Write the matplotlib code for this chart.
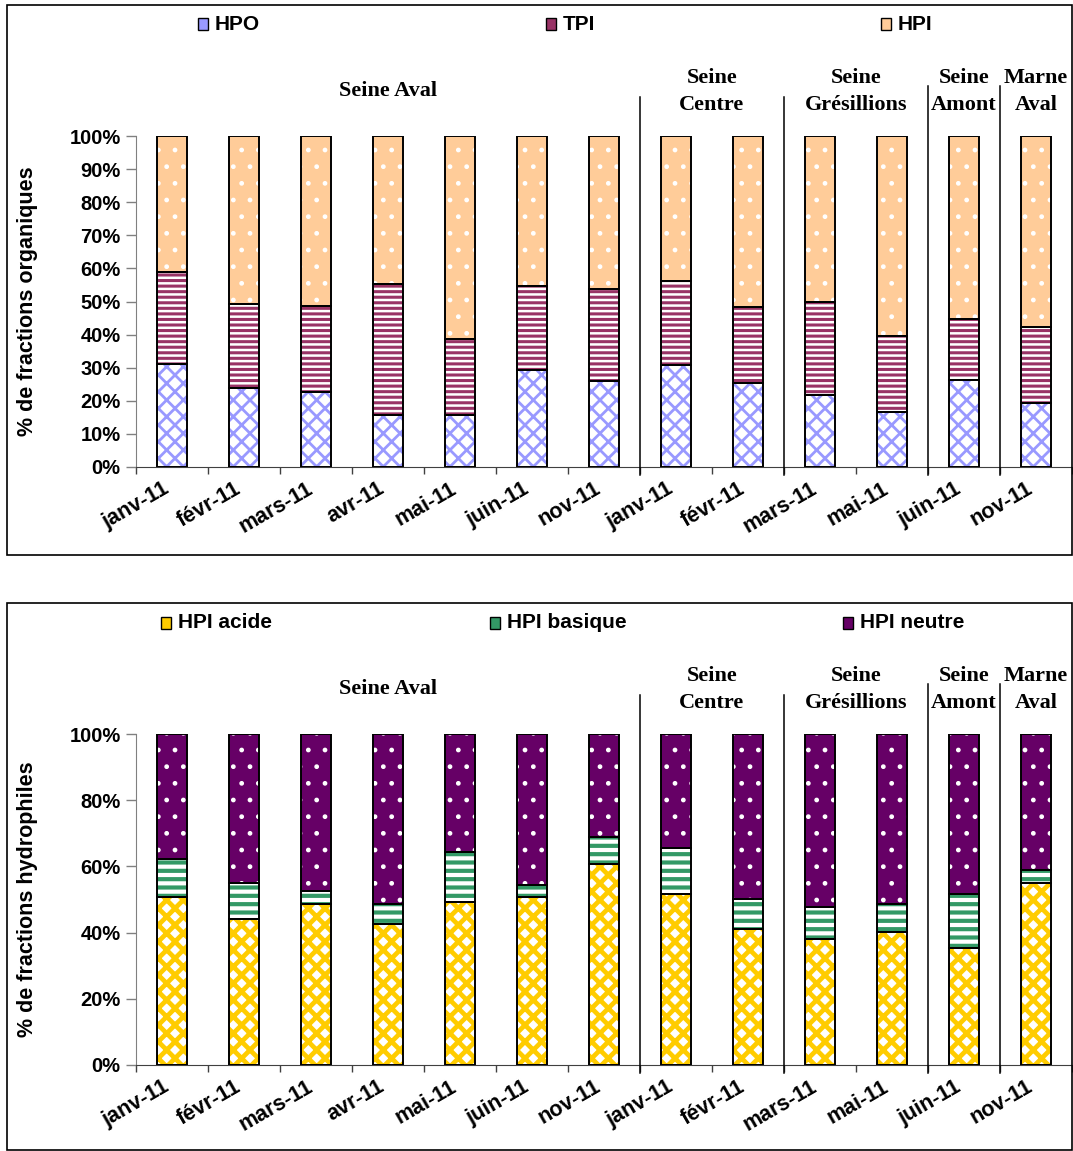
import matplotlib
matplotlib.use('Agg')
import matplotlib.pyplot as plt
from matplotlib.patches import Rectangle
from matplotlib.transforms import ScaledTranslation
import numpy as np

# ---------------- data ----------------
months = ['janv-11', 'févr-11', 'mars-11', 'avr-11', 'mai-11', 'juin-11', 'nov-11',
          'janv-11', 'févr-11', 'mars-11', 'mai-11', 'juin-11', 'nov-11']
groups = ['Seine Aval', 'Seine\nCentre', 'Seine\nGrésillions', 'Seine\nAmont', 'Marne\nAval']
group_sizes = [7, 2, 2, 1, 1]

hpo = [31.0, 24.0, 22.7, 15.8, 15.7, 29.4, 25.9, 30.9, 25.3, 21.8, 16.6, 26.4, 19.2]
tpi = [27.8, 25.3, 26.0, 39.6, 22.9, 25.4, 27.9, 25.4, 22.9, 28.0, 23.0, 18.2, 23.0]
hpi = [41.2, 50.7, 51.3, 44.6, 61.4, 45.2, 46.2, 43.7, 51.8, 50.2, 60.4, 55.4, 57.8]

hpi_acide = [50.7, 44.1, 48.5, 42.5, 49.3, 50.7, 60.8, 51.7, 41.1, 38.2, 40.2, 35.4, 54.9]
hpi_basique = [11.5, 11.0, 4.2, 6.0, 15.1, 3.6, 8.2, 13.8, 9.1, 9.4, 8.4, 16.4, 3.9]
hpi_neutre = [37.8, 44.9, 47.3, 51.5, 35.6, 45.7, 31.0, 34.5, 49.8, 52.4, 51.4, 48.2, 41.2]

top_names = ['HPO', 'TPI', 'HPI']
bot_names = ['HPI acide', 'HPI basique', 'HPI neutre']

# ---------------- styles ----------------
ST_HPO = dict(face='white', hcolor='#9999FF', hatch='xx', hlw=2.0)
ST_TPI = dict(face='white', hcolor='#993366', hatch='---', hlw=2.2)
ST_HPI = dict(face='#FFCC99', hcolor='white', hatch='.', hlw=1.0)
ST_ACI = dict(face='white', hcolor='#FFCC00', hatch='xx', hlw=3.4)
ST_BAS = dict(face='white', hcolor='#339966', hatch='--', hlw=3.0)
ST_NEU = dict(face='#660066', hcolor='white', hatch='.', hlw=1.0)

W, H = 1073, 1151
fig = plt.figure(figsize=(W / 100, H / 100), dpi=100)
SANS = ['Liberation Sans', 'DejaVu Sans']
SERIF = ['Liberation Serif', 'DejaVu Serif']
FS = 14.5


def styled_bar(ax, x, v, bottom, st, width):
    plt.rcParams['hatch.linewidth'] = st['hlw']
    bars = ax.bar(x, v, width, bottom=bottom, color=st['face'], edgecolor=st['hcolor'],
                  hatch=st['hatch'], linewidth=0, zorder=2)
    for b in bars:
        if hasattr(b, 'set_hatch_linewidth'):
            b.set_hatch_linewidth(st['hlw'])
    ax.bar(x, v, width, bottom=bottom, fill=False, edgecolor='black', linewidth=1.4, zorder=3)


def px_rect(x0, y0, x1, y1):
    return [x0 / W, 1 - y1 / H, (x1 - x0) / W, (y1 - y0) / H]


def panel(top_px, bottom_px, series, styles, names, yticks, ylabel, leg_y, leg_x):
    ax = fig.add_axes(px_rect(136, top_px, 1072, bottom_px))
    x = np.arange(len(months))
    bottom = np.zeros(len(months))
    for vals, st in zip(series, styles):
        v = np.array(vals) / 100.0
        styled_bar(ax, x, v, bottom, st, 0.42)
        bottom = bottom + v
    ax.set_xlim(-0.5, len(months) - 0.5)
    ax.set_ylim(0, 1)
    ax.set_yticks(np.array(yticks) / 100.0)
    ax.set_yticklabels(['%d%%' % t for t in yticks], fontsize=FS, fontweight='bold', family=SANS)
    ax.tick_params(axis='y', length=7, width=1, color='#808080', pad=4)
    ax.set_xticks(np.arange(-0.5, len(months), 1.0), minor=True)
    ax.tick_params(axis='x', which='minor', length=5, width=1, color='#404040')
    ax.set_xticks(x)
    ax.tick_params(axis='x', which='major', length=0, pad=8)
    ax.set_xticklabels(months, rotation=30, ha='right', rotation_mode='anchor',
                       fontsize=15.5, fontweight='bold', family=SANS)
    off = ScaledTranslation(-0.10, 0.0, fig.dpi_scale_trans)
    for lab in ax.get_xticklabels():
        lab.set_transform(lab.get_transform() + off)
    for s in ['top', 'right']:
        ax.spines[s].set_visible(False)
    ax.spines['left'].set_color('#808080')
    ax.spines['bottom'].set_color('#404040')
    ax.set_ylabel(ylabel, fontsize=15.5, fontweight='bold', family=SANS)
    ax.yaxis.set_label_coords(-0.105, 0.5)
    # groups
    start = 0
    for i, (g, n) in enumerate(zip(groups, group_sizes)):
        cx = start + (n - 1) / 2.0
        ax.text(cx, 1.135, g, ha='center', va='center', fontsize=16, fontweight='bold',
                family=SERIF, linespacing=1.45, transform=ax.get_xaxis_transform())
        if i > 0:
            ytop = 1.118 if i <= 2 else 1.152
            ax.plot([start - 0.5, start - 0.5], [-0.025, ytop], color='black', lw=1.1,
                    clip_on=False, transform=ax.get_xaxis_transform(), zorder=5)
        start += n
    # legend
    for name, st, lx in zip(names, styles, leg_x):
        r = Rectangle(((lx) / W, 1 - (leg_y + 6) / H), 10 / W, 12 / H, transform=fig.transFigure,
                      facecolor=st['face'] if st['face'] != 'white' else st['hcolor'],
                      edgecolor='black', linewidth=1.0)
        fig.add_artist(r)
        fig.text((lx + 17) / W, 1 - leg_y / H, name, ha='left', va='center', fontsize=15,
                 fontweight='bold', family=SANS)
    return ax


panel(136, 467, [hpo, tpi, hpi], [ST_HPO, ST_TPI, ST_HPI], top_names,
      [0, 10, 20, 30, 40, 50, 60, 70, 80, 90, 100], '% de fractions organiques',
      24, [198, 546, 881])
panel(734, 1065, [hpi_acide, hpi_basique, hpi_neutre], [ST_ACI, ST_BAS, ST_NEU], bot_names,
      [0, 20, 40, 60, 80, 100], '% de fractions hydrophiles',
      623, [161, 490, 843])

# panel frames
for (y0, y1) in [(5, 555), (603, 1150)]:
    fig.add_artist(Rectangle((7 / W, 1 - y1 / H), 1065 / W, (y1 - y0) / H,
                             transform=fig.transFigure, fill=False, edgecolor='black', lw=1.2))

fig.savefig('out.png', dpi=100, facecolor='white')
